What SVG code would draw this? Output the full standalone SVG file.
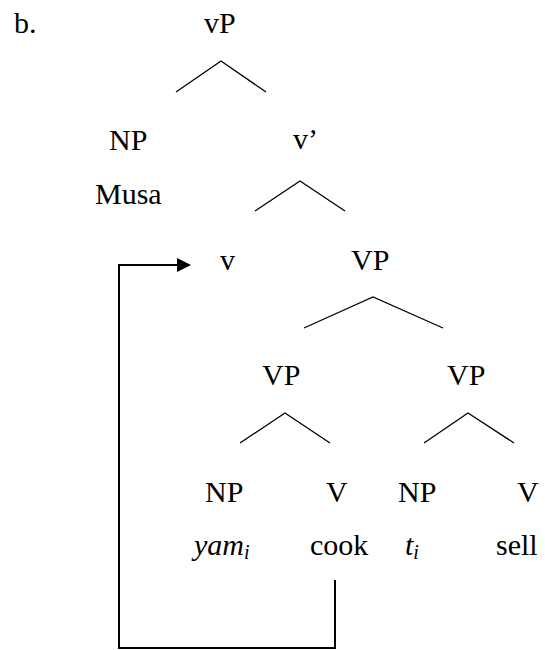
<svg xmlns="http://www.w3.org/2000/svg" width="545" height="650" viewBox="0 0 545 650">
<text x="14" y="33" font-family="Liberation Serif" font-size="30">b.</text>
<g id="vP"><text x="204" y="33" font-family="Liberation Serif" font-size="30">vP</text></g>
<g id="NP1"><text x="109" y="150" font-family="Liberation Serif" font-size="30">NP</text></g>
<g id="Musa"><text x="95" y="204" font-family="Liberation Serif" font-size="30">Musa</text></g>
<g id="vbar"><text x="293" y="149" font-family="Liberation Serif" font-size="30">v&#8217;</text></g>
<g id="v"><text x="220" y="270" font-family="Liberation Serif" font-size="30">v</text></g>
<g id="VP1"><text x="351" y="270" font-family="Liberation Serif" font-size="30">VP</text></g>
<g id="VP2"><text x="262" y="385" font-family="Liberation Serif" font-size="30">VP</text></g>
<g id="VP3"><text x="447" y="385" font-family="Liberation Serif" font-size="30">VP</text></g>
<g id="NP2"><text x="205" y="502" font-family="Liberation Serif" font-size="30">NP</text></g>
<g id="V1"><text x="326" y="502" font-family="Liberation Serif" font-size="30">V</text></g>
<g id="NP3"><text x="398" y="502" font-family="Liberation Serif" font-size="30">NP</text></g>
<g id="V2"><text x="517" y="502" font-family="Liberation Serif" font-size="30">V</text></g>
<g id="yam"><text x="194" y="555" font-family="Liberation Serif" font-size="30" font-style="italic">yam<tspan dy="4" font-size="20">i</tspan></text></g>
<g id="cook"><text x="310" y="555" font-family="Liberation Serif" font-size="30">cook</text></g>
<g id="t"><text x="405" y="555" font-family="Liberation Serif" font-size="30" font-style="italic">t<tspan dy="4" font-size="20">i</tspan></text></g>
<g id="sell"><text x="496" y="555" font-family="Liberation Serif" font-size="30">sell</text></g>
<g id="connectors" fill="none" stroke="#000">
<polyline stroke-width="1.3" points="176,92 221,61 266,92"/>
<polyline stroke-width="1.3" points="255,211 300,181 345,211"/>
<polyline stroke-width="1.3" points="304,328 373,297 443,328"/>
<polyline stroke-width="1.3" points="240,443 285,413 330,443"/>
<polyline stroke-width="1.3" points="424,443 468,413 514,443"/>
<path stroke-width="2" d="M335,580 V648 H119 V265 H178"/>
<polygon points="177,258 191,265 177,272" fill="#000" stroke="none"/>
</g>
</svg>
